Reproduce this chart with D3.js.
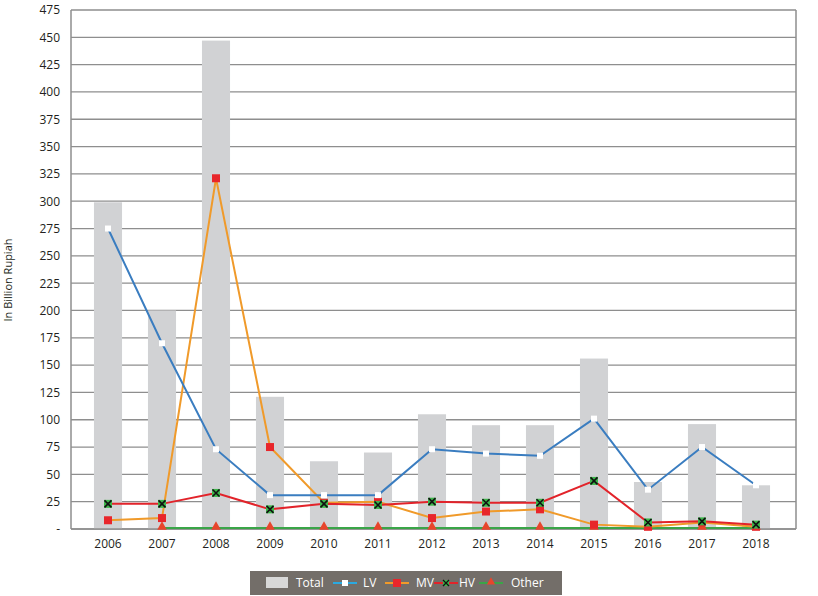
<!DOCTYPE html>
<html>
<head>
<meta charset="utf-8">
<script src="https://cdn.jsdelivr.net/npm/d3@7"></script>
<style>
  html, body { margin: 0; padding: 0; background: #fff; }
  svg { display: block; font-family: "Open Sans", "Noto Sans", sans-serif; }
</style>
</head>
<body>
<svg id="chart" width="818" height="596"></svg>
<script>
const years = ["2006","2007","2008","2009","2010","2011","2012","2013","2014","2015","2016","2017","2018"];
const total = [299, 200, 447, 121, 62, 70, 105, 95, 95, 156, 43, 96, 40];
const lv    = [275, 170, 73, 31, 31, 31, 73, 69, 67, 101, 36, 75, 40];
const mv    = [8, 10, 321, 75, 24, 25, 10, 16, 18, 4, 2, 6, 2];
const hv    = [23, 23, 33, 18, 23, 22, 25, 24, 24, 44, 6, 7, 4];
const other = [null, 1, 1, 1, 1, 1, 1, 1, 1, 1, 1, 1, 1];
const yTicks = d3.range(0, 476, 25);
const yTitle = "In Billion Rupiah";
const legendItems = ["Total", "LV", "MV", "HV", "Other"];

(function () {
const svg = d3.select("#chart");
const pLeft = 71, pRight = 796, pTop = 10, pBottom = 529;

const x = d3.scaleBand().domain(years).range([81, 783]).paddingInner(0.48).paddingOuter(0.24);
const cx = d => x(d) + x.bandwidth() / 2;
const y = d3.scaleLinear().domain([0, 475]).range([pBottom, pTop]);

const gridColor = "#8e8e8e";
const textColor = "#231f20";

// gridlines
svg.append("g").selectAll("line").data(yTicks).join("line")
  .attr("x1", pLeft).attr("x2", pRight)
  .attr("y1", d => y(d)).attr("y2", d => y(d))
  .attr("stroke", gridColor).attr("stroke-width", 1.3);

// bars
svg.append("g").selectAll("rect").data(years).join("rect")
  .attr("x", d => x(d)).attr("width", x.bandwidth())
  .attr("y", (d, i) => y(total[i])).attr("height", (d, i) => y(0) - y(total[i]))
  .attr("fill", "#d1d2d4");

// frame lines
svg.append("line").attr("x1", pLeft).attr("x2", pLeft).attr("y1", pTop).attr("y2", pBottom)
  .attr("stroke", gridColor).attr("stroke-width", 1.5);
svg.append("line").attr("x1", pRight).attr("x2", pRight).attr("y1", pTop).attr("y2", pBottom)
  .attr("stroke", gridColor).attr("stroke-width", 1.5);
svg.append("line").attr("x1", pLeft).attr("x2", pRight).attr("y1", pBottom).attr("y2", pBottom)
  .attr("stroke", gridColor).attr("stroke-width", 1.5);

// y axis labels
const yAxis = d3.axisLeft(y).tickValues(yTicks).tickSize(0).tickPadding(0)
  .tickFormat(d => d === 0 ? "-" : d);
const gy = svg.append("g").attr("transform", `translate(${pLeft - 11},0)`).call(yAxis);
gy.select(".domain").remove();
gy.selectAll("text").attr("font-size", 12).attr("fill", textColor)
  .attr("font-family", "'Open Sans', sans-serif");

// x axis labels
const xAxis = d3.axisBottom(x).tickSize(0).tickPadding(0);
const gx = svg.append("g").attr("transform", `translate(0,${pBottom + 10})`).call(xAxis);
gx.select(".domain").remove();
gx.selectAll("text").attr("font-size", 12).attr("fill", textColor)
  .attr("font-family", "'Open Sans', sans-serif");

// y title
svg.append("text").attr("transform", "translate(12,280) rotate(-90)")
  .attr("text-anchor", "middle").attr("font-size", 11).attr("fill", textColor)
  .text(yTitle);

// lines
function drawLine(vals, color) {
  const line = d3.line().defined(d => d[1] != null)
    .x(d => cx(d[0])).y(d => y(d[1]));
  svg.append("path").datum(years.map((yr, i) => [yr, vals[i]]))
    .attr("d", line).attr("fill", "none").attr("stroke", color).attr("stroke-width", 2);
}
drawLine(other, "#3aa548");
drawLine(mv, "#f09a2a");
drawLine(hv, "#e2232a");
drawLine(lv, "#3a7dc0");

const pts = (vals) => years.map((yr, i) => ({ yr, v: vals[i] })).filter(d => d.v != null);

// Other: triangles
svg.append("g").selectAll("path").data(pts(other)).join("path")
  .attr("d", d3.symbol(d3.symbolTriangle, 40))
  .attr("transform", d => `translate(${cx(d.yr)},${y(d.v) - 1})`)
  .attr("fill", "#e8452c");

// MV: red squares
svg.append("g").selectAll("rect").data(pts(mv)).join("rect")
  .attr("x", d => cx(d.yr) - 4).attr("y", d => y(d.v) - 4)
  .attr("width", 8).attr("height", 8).attr("fill", "#e8262b");

// HV: green squares with black x
const hvG = svg.append("g").selectAll("g").data(pts(hv)).join("g")
  .attr("transform", d => `translate(${cx(d.yr)},${y(d.v)})`);
hvG.append("rect").attr("x", -4).attr("y", -4).attr("width", 8).attr("height", 8).attr("fill", "#3db54a");
hvG.append("path").attr("d", "M-3.5,-3.5L3.5,3.5M3.5,-3.5L-3.5,3.5")
  .attr("stroke", "#111").attr("stroke-width", 1.6);

// LV: white squares
svg.append("g").selectAll("rect").data(pts(lv)).join("rect")
  .attr("x", d => cx(d.yr) - 3).attr("y", d => y(d.v) - 3)
  .attr("width", 6).attr("height", 6).attr("fill", "#fff");

// legend
const lg = svg.append("g");
lg.append("rect").attr("x", 250).attr("y", 571).attr("width", 312).attr("height", 24).attr("fill", "#736e69");
const ly = 583;
lg.append("rect").attr("x", 266).attr("y", 577).attr("width", 22).attr("height", 11).attr("fill", "#d8d8d8");
const lt = (xx, t) => lg.append("text").attr("x", xx).attr("y", ly).attr("dy", "0.35em")
  .attr("font-size", 12).attr("fill", "#fff").text(t);
lt(296, legendItems[0]);
// LV
lg.append("line").attr("x1", 333).attr("x2", 357).attr("y1", ly).attr("y2", ly).attr("stroke", "#2aa9e0").attr("stroke-width", 2);
lg.append("rect").attr("x", 342).attr("y", ly - 3).attr("width", 6).attr("height", 6).attr("fill", "#fff");
lt(363, legendItems[1]);
// MV
lg.append("line").attr("x1", 385).attr("x2", 409).attr("y1", ly).attr("y2", ly).attr("stroke", "#f09a2a").attr("stroke-width", 2);
lg.append("rect").attr("x", 393).attr("y", ly - 4).attr("width", 8).attr("height", 8).attr("fill", "#e8262b");
lt(416, legendItems[2]);
// HV
lg.append("line").attr("x1", 434).attr("x2", 458).attr("y1", ly).attr("y2", ly).attr("stroke", "#e2232a").attr("stroke-width", 2);
lg.append("rect").attr("x", 443).attr("y", ly - 3).attr("width", 6).attr("height", 6).attr("fill", "#3db54a");
lg.append("path").attr("d", `M443,${ly - 3}L449,${ly + 3}M449,${ly - 3}L443,${ly + 3}`).attr("stroke", "#111").attr("stroke-width", 1.3);
lt(459, legendItems[3]);
// Other
lg.append("line").attr("x1", 479).attr("x2", 503).attr("y1", ly).attr("y2", ly).attr("stroke", "#3aa548").attr("stroke-width", 2);
lg.append("path").attr("d", d3.symbol(d3.symbolTriangle, 30)).attr("transform", `translate(491,${ly - 1})`).attr("fill", "#e8452c");
lt(511, legendItems[4]);
})();
</script>
</body>
</html>
